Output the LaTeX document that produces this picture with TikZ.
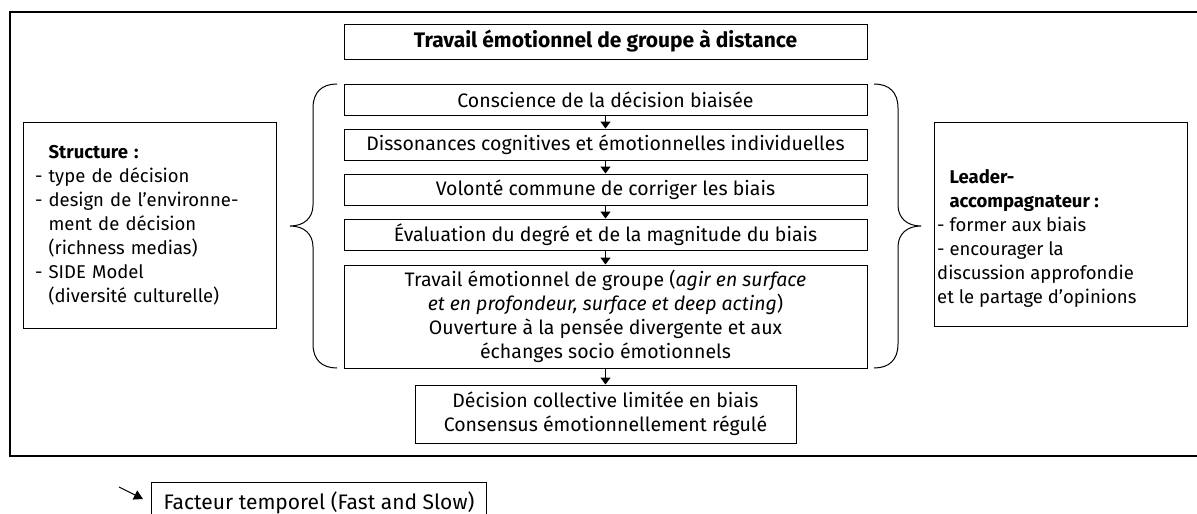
\documentclass[tikz,border=0pt]{standalone}
\usepackage{fontspec}
\setmainfont{Fira Sans}
\usetikzlibrary{arrows.meta}
\begin{document}
\begin{tikzpicture}[x=1pt,y=-1pt,
  every node/.style={font=\fontsize{19.5}{24}\selectfont},
  box/.style={draw, line width=1pt, inner sep=0pt, align=center},
  side/.style={font=\fontsize{18.5}{24}\selectfont},
  arr/.style={-{Triangle[width=10pt,length=7pt]}, line width=1pt},
  brace/.style={line width=1pt}]
\useasboundingbox (0,0) rectangle (1197,514);
\fill[white] (0,0) rectangle (1197,514);
% outer frame (cut at the right edge)
\draw[line width=1.3pt] (1215,12) -- (10,12) -- (10,456) -- (1215,456);
% title
\node[box, minimum width=523pt, minimum height=35pt, font=\fontsize{21}{24}\selectfont\bfseries] (title) at (605.5,41.5) {Travail émotionnel de groupe à distance};
% stack
\node[box, minimum width=523pt, minimum height=31pt] (b1) at (605.5,99.5) {Conscience de la décision biaisée};
\node[box, minimum width=523pt, minimum height=31pt] (b2) at (605.5,144.5) {Dissonances cognitives et émotionnelles individuelles};
\node[box, minimum width=523pt, minimum height=31pt] (b3) at (605.5,189.5) {Volonté commune de corriger les biais};
\node[box, minimum width=523pt, minimum height=31pt] (b4) at (605.5,234.5) {Évaluation du degré et de la magnitude du biais};
\node[box, minimum width=523pt, minimum height=103pt] (b5) at (605.5,316.5) {Travail émotionnel de groupe (\textit{agir en surface}\\\textit{et en profondeur, surface et deep acting})\\Ouverture à la pensée divergente et aux\\échanges socio émotionnels};
\node[box, minimum width=381pt, minimum height=58pt] (b6) at (605.5,414) {Décision collective limitée en biais\\Consensus émotionnellement régulé};
\draw[arr] (b1.south) -- (b2.north);
\draw[arr] (b2.south) -- (b3.north);
\draw[arr] (b3.south) -- (b4.north);
\draw[arr] (b4.south) -- (b5.north);
\draw[arr] (b5.south) -- (b6.north);
% side boxes
\node[box, side, minimum width=253pt, minimum height=206pt, align=left, text width=229pt] (struct) at (149.5,225) {\hphantom{- }\textbf{Structure :}\\- type de décision\\- design de l’environne-\\\hphantom{- }ment de décision\\\hphantom{- }(richness medias)\\- SIDE Model\\\hphantom{- }(diversité culturelle)};
\node[box, minimum width=253pt, minimum height=204pt] (lead) at (1060.5,224) {};
\node[side, anchor=west, align=left, inner sep=0pt] (leadtxt) at (937,238) {\hphantom{- }\textbf{Leader-}\\\hphantom{- }\textbf{accompagnateur :}\\- former aux biais\\- encourager la\\discussion approfondie\\et le partage d’opinions};
% braces
\draw[brace] (337,84) .. controls (322,84) and (313,92) .. (313,108) -- (313,205) .. controls (313,218) and (304,226) .. (290,226) .. controls (304,226) and (313,234) .. (313,247) -- (313,344) .. controls (313,360) and (322,368) .. (337,368);
\draw[brace] (874,84) .. controls (889,84) and (898,92) .. (898,108) -- (898,205) .. controls (898,218) and (907,226) .. (921,226) .. controls (907,226) and (898,234) .. (898,247) -- (898,344) .. controls (898,360) and (889,368) .. (874,368);
% footnote
\coordinate (fa) at (119,487);
\coordinate (fb) at (143,499);
\draw[-{Triangle[width=10pt,length=9pt]}, line width=1pt] (fa) -- (fb);
\node[box, anchor=north west, minimum width=335pt, minimum height=40pt, font=\fontsize{21}{24}\selectfont] (foot) at (151,482) {Facteur temporel (Fast and Slow)};
\end{tikzpicture}
\end{document}
